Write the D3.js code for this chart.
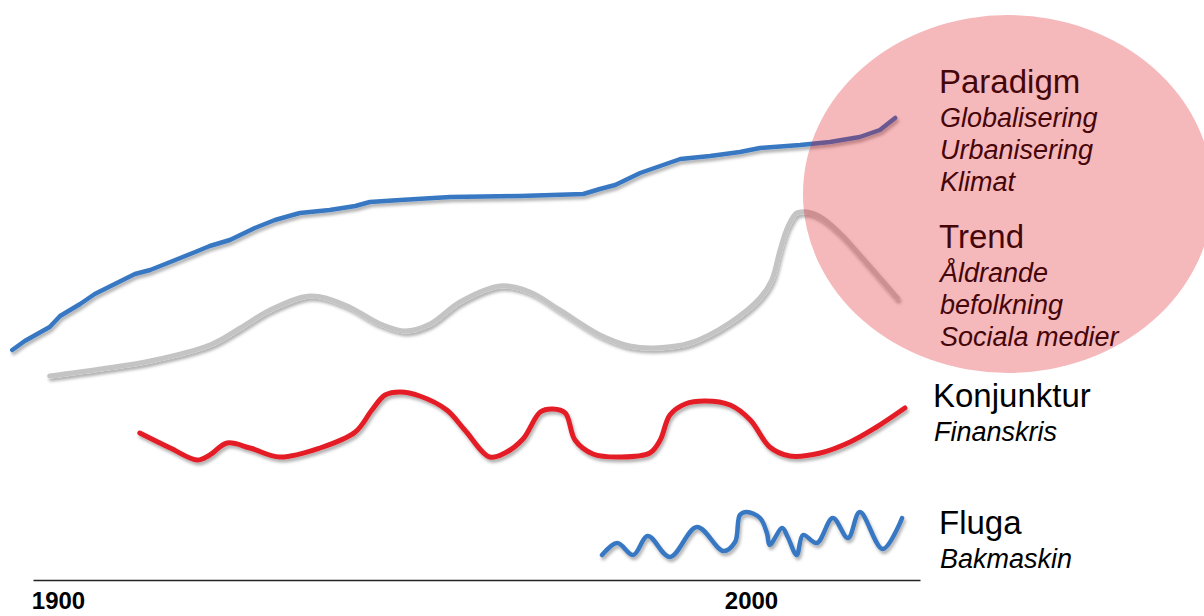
<!DOCTYPE html>
<html>
<head>
<meta charset="utf-8">
<script src="https://cdn.jsdelivr.net/npm/d3@7"></script>
<style>
    body{ margin: 0; background: #fff; }
    svg{ display: block; font-family: "Liberation Sans", Arial, sans-serif; }
    .title{ font-size: 33px; }
    .item{ font-size: 27px; font-style: italic; }
    .axis text{ font-size: 24px; font-weight: bold; fill: #000; }
    .axis path{ stroke: #222; stroke-width: 1.5; }
</style>
</head>
<body>
<svg id="chart" width="1204" height="616"></svg>
<script>

// years along the time axis, levels are arbitrary units (higher = further up)
const paradigmYears = [1893.4, 1895.2, 1898.8, 1900.3, 1903.2, 1905.3, 1908.2, 1911.1, 1913.3, 1916.2, 1919.8, 1921.9,
    1924.8, 1928.4, 1931.3, 1934.9, 1939.2, 1942.9, 1945.0, 1949.4, 1956.6, 1966.7, 1975.8, 1978.2, 1980.4, 1984.0,
    1986.9, 1989.8, 1994.1, 1998.4, 2001.3, 2007.1, 2011.4, 2015.7, 2018.6, 2020.8];
const paradigmValues = [23.0, 23.9, 25.3, 26.4, 27.6, 28.6, 29.6, 30.6, 31.0, 31.8, 32.8, 33.4,
    34.0, 35.2, 36.0, 36.7, 37.0, 37.4, 37.8, 38.0, 38.3, 38.4, 38.6, 39.1, 39.5, 40.7,
    41.4, 42.1, 42.4, 42.8, 43.2, 43.5, 43.8, 44.3, 45.0, 46.2];

const trendYears = [1898.8, 1906.1, 1913.3, 1921.9, 1926.3, 1930.6, 1936.4, 1941.4, 1946.5, 1950.1, 1953.7, 1958.0,
    1963.8, 1968.1, 1972.4, 1978.2, 1982.5, 1986.1, 1991.2, 1996.9, 2001.3, 2003.0, 2004.2, 2005.3, 2006.6, 2008.1,
    2010.0, 2012.8, 2016.7, 2021.1];
const trendValues = [20.4, 21.1, 21.9, 23.5, 25.2, 27.0, 28.4, 27.5, 25.6, 24.9, 25.6, 27.8,
    29.4, 28.8, 27.0, 24.5, 23.4, 23.2, 23.7, 25.7, 28.2, 30.0, 33.0, 35.3, 36.7, 36.8,
    36.3, 34.7, 31.7, 28.2];

const konjunkturYears = [1911.8, 1916.2, 1920.1, 1921.9, 1924.4, 1927.7, 1932.0, 1937.8, 1942.9, 1945.3, 1947.2, 1949.4,
    1952.2, 1956.1, 1958.7, 1962.3, 1964.5, 1967.1, 1969.6, 1971.4, 1973.2, 1974.6, 1977.2, 1981.1, 1985.4, 1986.9,
    1988.3, 1990.5, 1993.4, 1997.0, 1999.9, 2002.7, 2005.6, 2010.0, 2014.3, 2017.9, 2022.2];
const konjunkturValues = [14.7, 13.2, 12.0, 12.5, 13.7, 13.2, 12.3, 13.2, 14.8, 17.0, 18.5, 18.8,
    18.4, 17.0, 15.0, 12.3, 12.7, 14.1, 16.8, 17.1, 16.7, 14.0, 12.6, 12.3, 12.7, 14.0,
    16.5, 17.6, 17.9, 17.5, 16.0, 13.3, 12.4, 12.7, 13.8, 15.2, 17.2];

const flugaYears = [1978.5, 1980.7, 1983.0, 1985.1, 1988.3, 1992.2, 1996.0, 1997.7, 1998.4, 1999.4, 2001.3, 2002.3,
    2002.7, 2004.5, 2005.3, 2006.6, 2007.5, 2009.5, 2011.8, 2014.0, 2015.7, 2019.0, 2021.8];
const flugaValues = [2.5, 3.7, 2.5, 4.4, 2.3, 5.3, 2.9, 3.8, 6.5, 6.8, 6.2, 4.7,
    3.5, 5.2, 4.3, 2.5, 4.5, 3.7, 6.2, 4.2, 6.8, 3.1, 6.2];

const tickYears = [1900, 2000];
const tickLabels = ['1900', '2000'];

const labelTitles = ['Paradigm', 'Trend', 'Konjunktur', 'Fluga'];
const labelItems = [
    ['Globalisering', 'Urbanisering', 'Klimat'],
    ['Åldrande', 'befolkning', 'Sociala medier'],
    ['Finanskris'],
    ['Bakmaskin']
];

const svg = d3.select('#chart');

let x = d3.scaleLinear().domain([1900, 2000]).range([58, 751]);
let y = d3.scaleLinear().domain([0, 50]).range([580, 80]);

// soft shadow under the strokes
let defs = svg.append('defs');
defs.append('filter')
    .attr('id', 'shadow')
    .attr('x', '-5%').attr('y', '-20%')
    .attr('width', '110%').attr('height', '160%')
    .append('feDropShadow')
    .attr('dx', 1.5)
    .attr('dy', 3)
    .attr('stdDeviation', 1.6)
    .attr('flood-color', '#000')
    .attr('flood-opacity', 0.3);

function toPoints(years, values){
    let pts = [];
    for(let i = 0; i < years.length; i++){
        pts.push([years[i], values[i]]);
    }
    return pts;
}

let series = [
    {data: toPoints(trendYears, trendValues), color: '#c4c4c4', width: 5, curve: d3.curveCatmullRom.alpha(0.5)},
    {data: toPoints(paradigmYears, paradigmValues), color: '#3878c3', width: 4.5, curve: d3.curveLinear},
    {data: toPoints(konjunkturYears, konjunkturValues), color: '#e41e26', width: 5, curve: d3.curveCatmullRom.alpha(0.5)},
    {data: toPoints(flugaYears, flugaValues), color: '#3878c3', width: 4.5, curve: d3.curveCatmullRom.alpha(0.5)}
];

series.forEach(s=>{
    let line = d3.line()
        .x(d=>x(d[0]))
        .y(d=>y(d[1]))
        .curve(s.curve);

    svg.append('path')
        .datum(s.data)
        .attr('d', line)
        .attr('fill', 'none')
        .attr('stroke', s.color)
        .attr('stroke-width', s.width)
        .attr('stroke-linecap', 'round')
        .attr('stroke-linejoin', 'round')
        .attr('filter', 'url(#shadow)');
});

// time axis, the line runs a bit past both ticks
let xAxisScale = x.copy().domain([x.invert(33), x.invert(920)]).range([33, 920]);

let axis = svg.append('g')
    .attr('class', 'axis')
    .attr('transform', 'translate(0,580)')
    .call(d3.axisBottom(xAxisScale)
        .tickValues(tickYears)
        .tickFormat((d, i)=>tickLabels[i])
        .tickSize(0)
        .tickSizeOuter(0));

axis.selectAll('text')
    .attr('y', 29)
    .attr('dy', null);

// labels at the right
let titleX = [939, 939, 933, 939];
let titleY = [93, 248, 407, 534];

labelTitles.forEach((t, i)=>{
    svg.append('text')
        .attr('class', 'title')
        .attr('x', titleX[i])
        .attr('y', titleY[i])
        .text(t);

    svg.selectAll('.item_' + i)
        .data(labelItems[i])
        .enter()
        .append('text')
        .attr('class', 'item item_' + i)
        .attr('x', titleX[i] + 1)
        .attr('y', (d, j)=>titleY[i] + 34 + j * 32)
        .text(d=>d);
});

// translucent bubble laid over the long-term part
svg.append('ellipse')
    .attr('cx', 1008)
    .attr('cy', 194)
    .attr('rx', 205)
    .attr('ry', 179)
    .style('fill', 'rgb(222,20,30)')
    .style('fill-opacity', 0.3);

</script>
</body>
</html>
